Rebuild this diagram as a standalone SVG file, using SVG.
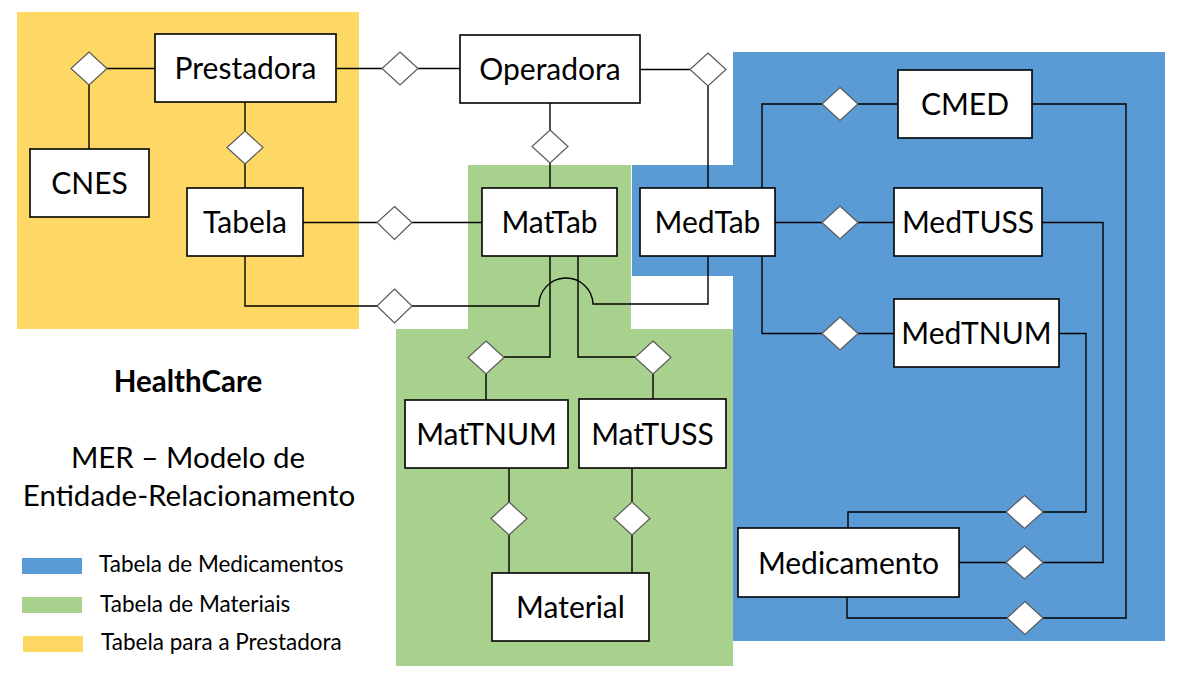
<svg xmlns="http://www.w3.org/2000/svg" width="1182" height="692" viewBox="0 0 1182 692">
<style>
.box{fill:#fff;stroke:#000;stroke-width:1.6}
.dia{fill:#fff;stroke:#595959;stroke-width:1.2}
.lbl{font-family:Lato,"Open Sans",sans-serif;font-size:30px;fill:#000;text-anchor:middle}
.con{fill:none;stroke:#000;stroke-width:1.4}
.leg{font-family:Lato,"Open Sans",sans-serif;font-size:22.5px;fill:#000}
.ttl{font-family:Lato,"Open Sans",sans-serif;font-size:29.5px;fill:#000;text-anchor:middle}
</style>
<rect width="1182" height="692" fill="#fff"/>
<g id="regions">
<rect x="17" y="12" width="342" height="317" fill="#FDD865"/>
<polygon points="468,165 631,165 631,329 733,329 733,666 396,666 396,329 468,329" fill="#A9D18E"/>
<polygon points="733,52 1165,52 1165,641 733,641 733,276 632,276 632,165 733,165" fill="#5B9BD5"/>
</g>
<g id="connectors" class="con">
<path d="M155,68.5 H107 M89,85 V149"/>
<path d="M245,102 V131 M245,164 V188"/>
<path d="M336,68.5 H382 M418,68.5 H460"/>
<path d="M640,69.5 H690 M708,86 V188"/>
<path d="M550,103 V130 M550,163 V188"/>
<path d="M303,222.5 H377 M412,222.5 H482"/>
<path d="M245,256 V306 H377 M412,306 H539 A27,27 0 0 1 593,304 H708 V256"/>
<path d="M550,256 V357 H504 M486,374 V400"/>
<path d="M578,256 V357 H635 M653,374 V399"/>
<path d="M509,468 V502 M509,535 V573"/>
<path d="M632,468 V502 M632,535 V573"/>
<path d="M762,188 V104 H822 M858,104 H898"/>
<path d="M775,222.5 H822 M858,222.5 H894"/>
<path d="M762,256 V333.5 H822 M858,333.5 H894"/>
<path d="M1032,104 H1126 V618 H1043 M1007,618 H847 V597"/>
<path d="M1042,222.5 H1103 V562.5 H1043 M1006,562.5 H959"/>
<path d="M1059,333.5 H1086 V512 H1043 M1006,512 H848 V528"/>
</g>
<g id="rel-prestadora-cnes"><polygon class="dia" points="89,52 107,68.5 89,85 71,68.5"/></g>
<g id="rel-prestadora-tabela"><polygon class="dia" points="245,131 263,147.5 245,164 227,147.5"/></g>
<g id="rel-prestadora-operadora"><polygon class="dia" points="400,52 418,68.5 400,85 382,68.5"/></g>
<g id="rel-operadora-medtab"><polygon class="dia" points="708,53 726,69.5 708,86 690,69.5"/></g>
<g id="rel-operadora-mattab"><polygon class="dia" points="550,130 568,146.5 550,163 532,146.5"/></g>
<g id="rel-tabela-mattab"><polygon class="dia" points="394.5,206.5 412,222.5 394.5,239.5 377,222.5"/></g>
<g id="rel-tabela-medtab"><polygon class="dia" points="394.5,289 412,306 394.5,323 377,306"/></g>
<g id="rel-mattab-mattnum"><polygon class="dia" points="486,341 504,357.5 486,374 468,357.5"/></g>
<g id="rel-mattab-mattuss"><polygon class="dia" points="653,341 671,357.5 653,374 635,357.5"/></g>
<g id="rel-mattnum-material"><polygon class="dia" points="509,502 527,518.5 509,535 491,518.5"/></g>
<g id="rel-mattuss-material"><polygon class="dia" points="632,502 650,518.5 632,535 614,518.5"/></g>
<g id="rel-medtab-cmed"><polygon class="dia" points="840,87.5 858,104 840,120.5 822,104"/></g>
<g id="rel-medtab-medtuss"><polygon class="dia" points="840,206 858,222.5 840,239 822,222.5"/></g>
<g id="rel-medtab-medtnum"><polygon class="dia" points="840,317 858,333.5 840,350 822,333.5"/></g>
<g id="rel-medtnum-medicamento"><polygon class="dia" points="1024.5,495.5 1043,512 1024.5,528.5 1006,512"/></g>
<g id="rel-medtuss-medicamento"><polygon class="dia" points="1024.5,546 1043,562.5 1024.5,579 1006,562.5"/></g>
<g id="rel-cmed-medicamento"><polygon class="dia" points="1025,601.5 1043,618 1025,634.5 1007,618"/></g>
<g id="prestadora"><rect class="box" x="155" y="34" width="181" height="68"/><text class="lbl" x="245.5" y="79">Prestadora</text></g>
<g id="cnes"><rect class="box" x="30" y="149" width="119" height="68"/><text class="lbl" x="89.5" y="194">CNES</text></g>
<g id="tabela"><rect class="box" x="187" y="188" width="116" height="68"/><text class="lbl" x="245" y="233">Tabela</text></g>
<g id="operadora"><rect class="box" x="460" y="35" width="180" height="68"/><text class="lbl" x="550" y="80">Operadora</text></g>
<g id="mattab"><rect class="box" x="482" y="188" width="135" height="68"/><text class="lbl" x="549.5" y="233">MatTab</text></g>
<g id="medtab"><rect class="box" x="640" y="188" width="135" height="68"/><text class="lbl" x="707.5" y="233">MedTab</text></g>
<g id="cmed"><rect class="box" x="898" y="70" width="134" height="68"/><text class="lbl" x="965" y="115">CMED</text></g>
<g id="medtuss"><rect class="box" x="894" y="188" width="148" height="68"/><text class="lbl" x="968" y="233">MedTUSS</text></g>
<g id="medtnum"><rect class="box" x="894" y="299" width="165" height="68"/><text class="lbl" x="976.5" y="344">MedTNUM</text></g>
<g id="mattnum"><rect class="box" x="405" y="400" width="163" height="68"/><text class="lbl" x="486.5" y="445">MatTNUM</text></g>
<g id="mattuss"><rect class="box" x="579" y="399" width="147" height="69"/><text class="lbl" x="652.5" y="444.5">MatTUSS</text></g>
<g id="material"><rect class="box" x="492" y="573" width="157" height="68"/><text class="lbl" x="570.5" y="618">Material</text></g>
<g id="medicamento"><rect class="box" x="738" y="528" width="221" height="69"/><text class="lbl" x="848.5" y="573.5">Medicamento</text></g>
<g id="title">
<text class="ttl" x="188" y="392" font-weight="bold">HealthCare</text>
<text class="ttl" x="188" y="468">MER – Modelo de</text>
<text class="ttl" x="189" y="506">Entidade-Relacionamento</text>
</g>
<g id="legend">
<rect x="22" y="558" width="60" height="16" fill="#5B9BD5"/>
<rect x="22" y="597" width="60" height="16" fill="#A9D18E"/>
<rect x="23" y="636" width="60" height="16" fill="#FDD865"/>
<text class="leg" x="99" y="572">Tabela de Medicamentos</text>
<text class="leg" x="100" y="612">Tabela de Materiais</text>
<text class="leg" x="101" y="650">Tabela para a Prestadora</text>
</g>
</svg>
